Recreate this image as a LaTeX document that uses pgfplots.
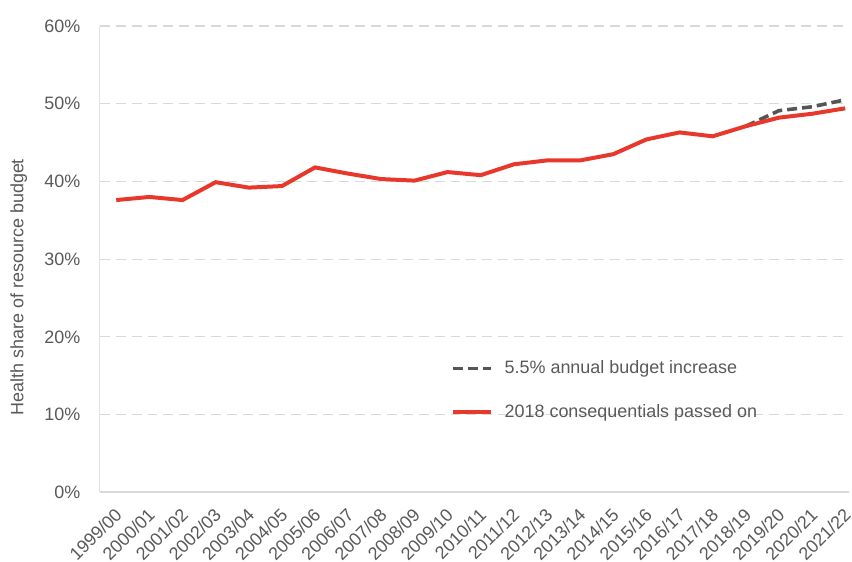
\documentclass[border=0pt]{standalone}
\usepackage{fontspec}
\setmainfont{Liberation Sans}
\usepackage{pgfplots}
\pgfplotsset{compat=1.18}
\definecolor{redl}{RGB}{232,56,44}
\definecolor{grayd}{RGB}{85,85,85}
\definecolor{txt}{RGB}{89,89,89}
\definecolor{gridc}{RGB}{217,217,217}

\begin{document}
\begin{tikzpicture}
\begin{axis}[
  scale only axis,
  width=376pt, height=234pt,
  xmin=-0.5, xmax=22.12, ymin=0, ymax=60,
  xtick={0,...,22},
  xticklabels={1999/00,2000/01,2001/02,2002/03,2003/04,2004/05,2005/06,2006/07,2007/08,2008/09,2009/10,2010/11,2011/12,2012/13,2013/14,2014/15,2015/16,2016/17,2017/18,2018/19,2019/20,2020/21,2021/22},
  x tick label style={rotate=45, anchor=north east, inner sep=0pt, xshift=-5.8pt, yshift=-4pt},
  ytick={0,10,...,60},
  yticklabel={\pgfmathprintnumber{\tick}\%},
  /pgf/number format/assume math mode=true,
  tick label style={font=\fontsize{9}{10}\selectfont, text=txt},
  y tick label style={anchor=east, inner sep=0pt, xshift=-9.5pt},
  ylabel={Health share of resource budget},
  ylabel style={font=\fontsize{9}{10}\selectfont, text=txt,
    at={(axis description cs:-0.108,0.44)}, anchor=center},
  axis x line*=bottom, axis y line*=left,
  x axis line style={gridc, line width=1pt, -},
  y axis line style={gridc!70, line width=0.6pt, -},
  major tick length=0pt,
  ymajorgrids, grid style={gridc, line width=0.6pt, dash pattern=on 5pt off 3pt},
  legend style={draw=none, fill=none, at={(0.468,0.292)}, anchor=north west,
    font=\fontsize{9}{10}\selectfont, text=txt, row sep=10pt, inner sep=0pt},
  legend cell align=left,
  legend image code/.code={\draw[#1] (0pt,0pt) -- (19pt,0pt); \path (23pt,0pt);},
]
\addplot[grayd, line width=1.8pt, dash pattern=on 5pt off 2.5pt] coordinates
{(19,47.1) (20,49.1) (21,49.6) (22,50.5)};
\addlegendentry{5.5\% annual budget increase}
\addplot[redl, line width=2pt] coordinates
{(0,37.6) (1,38.0) (2,37.6) (3,39.9) (4,39.2) (5,39.4) (6,41.8) (7,41.0) (8,40.3)
 (9,40.1) (10,41.2) (11,40.8) (12,42.2) (13,42.7) (14,42.7) (15,43.5) (16,45.4)
 (17,46.3) (18,45.8) (19,47.1) (20,48.2) (21,48.7) (22,49.4)};
\addlegendentry{2018 consequentials passed on}
\end{axis}
\path (0,247pt) (-50pt,0);
\end{tikzpicture}
\end{document}
